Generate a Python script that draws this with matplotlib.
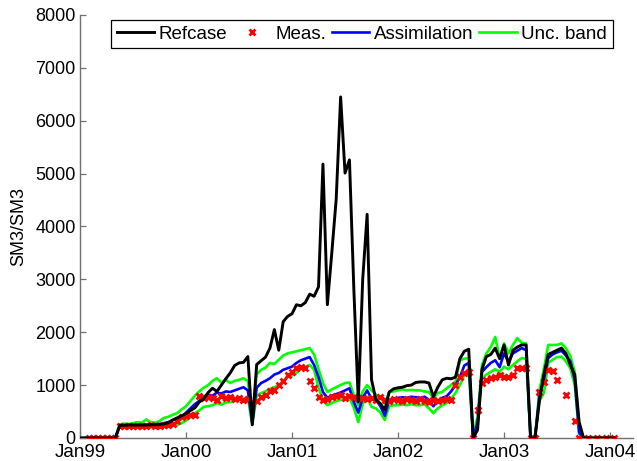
import numpy as np
import matplotlib
matplotlib.use("Agg")
import matplotlib.pyplot as plt
import matplotlib.dates as mdates
from matplotlib.lines import Line2D

plt.rcParams.update({
    "font.family": ["Liberation Sans", "DejaVu Sans"],
    "font.size": 13,
})

nan = np.nan

# semi-monthly sampling from Jan 1999
t0 = np.datetime64("1999-01-01T00:00")
n_pts = 122
dates = t0 + (np.arange(n_pts) * 365.25 / 24 * 86400).astype("timedelta64[s]")

refcase = [
    0, 0, 0, 0, 0, 0, 0, 0, 0,
    240, 240, 245, 245, 245, 245, 245, 250, 250, 255, 265,
    290, 340, 380, 420, 460, 520, 570, 680, 740, 860,
    940, 880, 1000, 1120, 1230, 1370, 1420, 1430, 1540, 250,
    1390, 1460, 1530, 1700, 2050, 1660, 2200, 2300, 2350, 2520,
    2500, 2560, 2720, 2680, 2860, 5180, 2520, 3500, 4520, 6450,
    5010, 5260, 2800, 680, 3000, 4230, 1100, 720, 650, 530,
    870, 930, 950, 960, 990, 1000, 1050, 1060, 1060, 1040,
    780, 960, 1100, 1130, 1120, 1150, 1500, 1640, 1680, 0,
    150, 1300, 1540, 1580, 1700, 1500, 1760, 1380, 1660, 1720,
    1760, 1760, 0, 0, 700, 1200, 1580, 1620, 1660, 1700,
    1600, 1380, 1200, 300, 0, 0, 0, 0, 0, 0, 0, 0,
]

assim = [
    0, 0, 0, 0, 0, 0, 0, 0, 0,
    235, 240, 245, 240, 250, 245, 250, 255, 260, 265, 280,
    300, 340, 370, 400, 480, 560, 640, 700, 780, 820,
    800, 860, 840, 880, 870, 900, 930, 960, 900, 280,
    950, 1040, 1080, 1130, 1200, 1230, 1290, 1320, 1350, 1420,
    1470, 1500, 1530, 1380, 1150, 870, 760, 800, 830, 860,
    900, 940, 680, 480, 760, 900, 740, 720, 600, 420,
    720, 740, 760, 770, 760, 780, 770, 760, 780, 720,
    600, 700, 760, 790, 880, 1000, 1150, 1370, 1420, 0,
    300, 1250, 1340, 1420, 1470, 1340, 1600, 1440, 1600, 1650,
    1700, 1660, 0, 0, 800, 1100, 1510, 1580, 1620, 1650,
    1560, 1450, 1100, 100, 0, 0, 0, 0, 0, 0, 0, 0,
]

band_hi = [
    0, 0, 0, 0, 0, 0, 0, 0, 0,
    255, 270, 265, 280, 300, 290, 350, 300, 290, 320, 380,
    400, 440, 470, 540, 600, 700, 800, 880, 950, 1000,
    1080, 1130, 1050, 1100, 1040, 1080, 1100, 1130, 1080, 400,
    1200, 1290, 1330, 1420, 1400, 1480, 1560, 1600, 1620, 1640,
    1660, 1680, 1700, 1580, 1300, 1040, 870, 920, 960, 1000,
    1040, 1050, 810, 620, 880, 1000, 900, 820, 760, 660,
    870, 880, 900, 920, 900, 910, 900, 900, 880, 870,
    760, 850, 870, 940, 1000, 1060, 1470, 1500, 1510, 60,
    400, 1380, 1600, 1720, 1910, 1510, 1790, 1600, 1760, 1890,
    1800, 1790, 0, 0, 900, 1300, 1760, 1760, 1760, 1790,
    1700, 1550, 1250, 250, 0, 0, 0, 0, 0, 0, 0, 0,
]

band_lo = [
    0, 0, 0, 0, 0, 0, 0, 0, 0,
    220, 225, 225, 220, 230, 225, 230, 230, 235, 230, 235,
    240, 230, 250, 280, 330, 400, 470, 520, 590, 600,
    620, 660, 630, 670, 680, 700, 720, 740, 760, 250,
    800, 850, 880, 930, 960, 1000, 1080, 1150, 1180, 1230,
    1300, 1340, 1380, 1290, 950, 720, 620, 660, 700, 720,
    740, 760, 570, 300, 640, 780, 590, 560, 480, 340,
    600, 620, 620, 630, 620, 640, 620, 620, 640, 560,
    470, 560, 620, 660, 740, 850, 1000, 1190, 1250, 0,
    210, 1130, 1200, 1250, 1300, 1250, 1350, 1300, 1380, 1450,
    1510, 1500, 0, 0, 700, 850, 1420, 1480, 1530, 1540,
    1450, 1320, 1000, 80, 0, 0, 0, 0, 0, 0, 0, 0,
]

meas = [
    nan, nan, 0, 0, 0, 0, 0, 0, 0,
    230, 230, 235, 230, 235, 230, 235, 240, 230, 235, 240,
    240, 260, 330, 400, 420, 430, 440, 800, 760, 780,
    760, 720, 800, 750, 770, 740, 760, 720, 740, 680,
    700, 780, 820, 880, 900, 1000, 1080, 1190, 1240, 1320,
    1350, 1320, 1080, 940, 780, 720, 740, 780, 800, 820,
    760, 800, 780, 760, 760, 740, 760, 720, 780, 720,
    700, 740, 720, 700, 740, 720, 700, 730, 700, 680,
    720, 700, 720, 730, 720, 1000, 1150, 1230, 1240, 0,
    530, 1040, 1100, 1130, 1150, 1190, 1150, 1150, 1200, 1320,
    1320, 1320, 0, 0, 870, 1060, 1290, 1270, 1100, nan,
    810, nan, 320, 0, nan, 0, nan, 0, nan, 0, nan, 0,
]

series_names = ["Refcase", "Meas.", "Assimilation", "Unc. band"]
year_ticks = [np.datetime64(f"{y}-01-01") for y in range(1999, 2005)]

GREY = "#707070"

fig = plt.figure(figsize=(6.37, 4.61), dpi=100)
ax = fig.add_axes([0.1256, 0.0499, 0.868, 0.9176])

ax.plot(dates, band_hi, color="#00ff00", lw=1.9, zorder=1)
ax.plot(dates, band_lo, color="#00ff00", lw=1.9, zorder=1)
ax.plot(dates, assim, color="#0000ff", lw=1.9, zorder=2)
ax.plot(dates, meas, ls="none", marker="x", color="#ff0000", ms=5, mew=2.0, zorder=3)
ax.plot(dates, refcase, color="black", lw=2.1, zorder=4)

ax.set_ylim(0, 8000)
ax.set_xlim(np.datetime64("1999-01-01"), np.datetime64("2004-03-20"))
ax.set_yticks(range(0, 8001, 1000))
ax.set_xticks(year_ticks)
ax.xaxis.set_major_formatter(mdates.DateFormatter("%b%y"))

for side in ("top", "right"):
    ax.spines[side].set_visible(False)
for side in ("left", "bottom"):
    ax.spines[side].set_color(GREY)
    ax.spines[side].set_linewidth(1.0)
ax.tick_params(direction="in", length=4, width=0.9, color=GREY, labelsize=13, pad=3)
ax.tick_params(axis="x", labelsize=13.5, pad=4.5)
ax.set_ylabel("SM3/SM3", fontsize=13)
ax.yaxis.set_label_coords(-0.096, 0.5)

handles = [
    Line2D([], [], color="black", lw=2.1),
    Line2D([], [], ls="none", marker="x", color="#ff0000", ms=5, mew=2.0),
    Line2D([], [], color="#0000ff", lw=1.9),
    Line2D([], [], color="#00ff00", lw=1.9),
]
leg = ax.legend(handles, series_names, loc="upper left", bbox_to_anchor=(0.056, 0.988),
                borderaxespad=0, ncol=4, fontsize=13.5, handlelength=2.0, handletextpad=0.25,
                columnspacing=0.3, fancybox=False, framealpha=1, borderpad=0.3)
leg.get_frame().set_edgecolor("black")
leg.get_frame().set_linewidth(0.9)

fig.savefig("out.png", dpi=100)
